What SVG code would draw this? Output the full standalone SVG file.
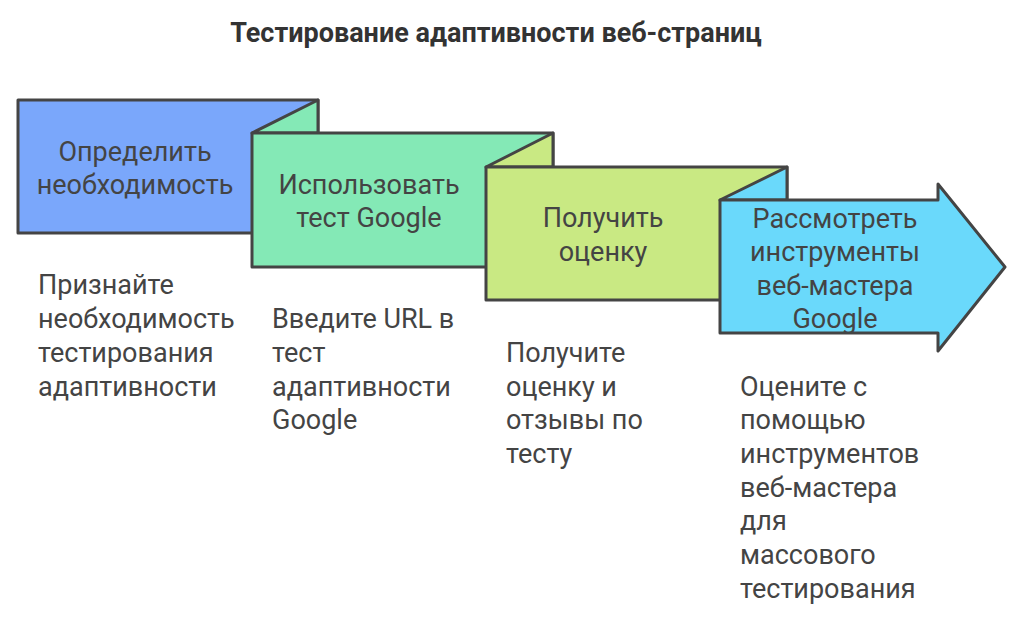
<svg xmlns="http://www.w3.org/2000/svg" width="1024" height="620" viewBox="0 0 1024 620">
<style>
.s{stroke:#444;stroke-width:3;stroke-linejoin:round}
.t{font-family:Roboto,"Liberation Sans",sans-serif;font-size:27px;fill:#444;text-anchor:middle}
.d{font-family:Roboto,"Liberation Sans",sans-serif;font-size:27px;fill:#444}
</style>
<rect width="1024" height="620" fill="#fff"/>
<text x="496" y="42" font-family="Roboto,'Liberation Sans',sans-serif" font-size="27" font-weight="bold" fill="#333" text-anchor="middle">Тестирование адаптивности веб-страниц</text>
<g id="n1">
<rect class="s" x="18" y="100" width="300" height="133" fill="#7aa7fb"/>
<text class="t" x="135" y="161">Определить</text><text class="t" x="135" y="194">необходимость</text>
<text class="d" x="38" y="294">Признайте</text><text class="d" x="38" y="328">необходимость</text><text class="d" x="38" y="362">тестирования</text><text class="d" x="38" y="396">адаптивности</text>
</g>
<g id="n2">
<polygon class="s" points="252,133 318,100 318,133" fill="#84e9b6"/>
<rect class="s" x="252" y="133" width="301" height="134" fill="#84e9b6"/>
<text class="t" x="369" y="194">Использовать</text><text class="t" x="369" y="227">тест Google</text>
<text class="d" x="272" y="328">Введите URL в</text><text class="d" x="272" y="362">тест</text><text class="d" x="272" y="396">адаптивности</text><text class="d" x="272" y="429">Google</text>
</g>
<g id="n3">
<polygon class="s" points="486,167 553,133 553,167" fill="#c9e983"/>
<rect class="s" x="486" y="167" width="301" height="133" fill="#c9e983"/>
<text class="t" x="603" y="227">Получить</text><text class="t" x="603" y="261">оценку</text>
<text class="d" x="506" y="362">Получите</text><text class="d" x="506" y="396">оценку и</text><text class="d" x="506" y="429">отзывы по</text><text class="d" x="506" y="463">тесту</text>
</g>
<g id="n4">
<polygon class="s" points="720,200 787,167 787,200" fill="#6ad9fb"/>
<polygon class="s" points="720,200 938,200 938,184 1005,267 938,351 938,333 720,333" fill="#6ad9fb"/>
<text class="t" x="835" y="228">Рассмотреть</text><text class="t" x="835" y="261">инструменты</text><text class="t" x="835" y="295">веб-мастера</text><text class="t" x="835" y="328">Google</text>
<text class="d" x="740" y="396">Оцените с</text><text class="d" x="740" y="429">помощью</text><text class="d" x="740" y="463">инструментов</text><text class="d" x="740" y="497">веб-мастера</text><text class="d" x="740" y="530">для</text><text class="d" x="740" y="564">массового</text><text class="d" x="740" y="598">тестирования</text>
</g>
<g id="connectors"/>
</svg>
